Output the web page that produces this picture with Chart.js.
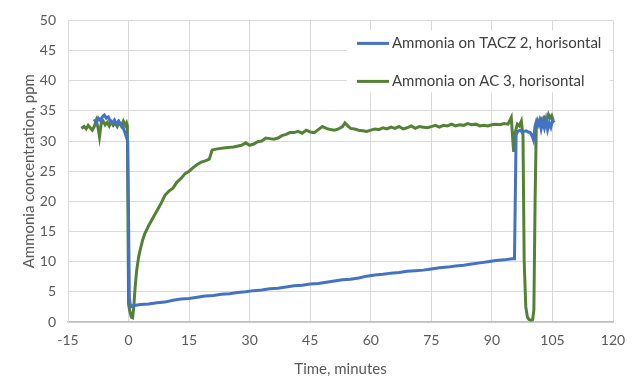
<!DOCTYPE html>
<html>
  <head>
    <style>
      body { margin: 0; background: #ffffff; }
      #holder { width: 640px; height: 392px; }
    </style>
  </head>
  <body>
    <div id="holder">
      <canvas id="chart-area" width="640" height="392"></canvas>
    </div>

    <script src="https://cdn.jsdelivr.net/npm/chart.js@4.4.1/dist/chart.umd.min.js"></script>
    <script>
      // series labels
      var seriesNames = ['Ammonia on TACZ 2, horisontal', 'Ammonia on AC 3, horisontal'];

      // TACZ 2 - time (min) and concentration (ppm)
      var taczTime = [-8.5, -8, -7.5, -7, -6.5, -6, -5.5, -5, -4.5, -4, -3.5, -3, -2.5, -2, -1.5, -1, -0.5, -0.2,
        0.2, 0.5, 1, 3, 5, 7, 9, 11, 13, 15, 17, 19, 21, 23, 25, 27, 29, 31, 33, 35, 37, 39, 41, 43, 45, 47, 49,
        51, 53, 55, 57, 59, 61, 63, 65, 67, 69, 71, 73, 75, 77, 79, 81, 83, 85, 87, 89, 91, 93, 95, 95.6,
        96.0, 96.4, 97, 97.5, 98, 98.5, 99, 99.5, 100, 100.3, 100.7, 101, 101.4, 101.8, 102.2, 102.6, 103,
        103.4, 103.8, 104.2, 104.6, 105, 105.5];
      var taczValues = [33.6, 33.0, 33.8, 33.4, 34.0, 34.3, 33.8, 34.0, 33.2, 33.0, 33.5, 32.8, 33.3, 32.8, 32.5, 31.6, 30.6, 30.0,
        4.0, 2.5, 2.7, 2.9, 3.0, 3.2, 3.3, 3.6, 3.8, 3.9, 4.1, 4.3, 4.4, 4.6, 4.7, 4.9, 5.0, 5.2, 5.3, 5.5, 5.6, 5.8, 6.0, 6.1, 6.3, 6.4, 6.6,
        6.8, 7.0, 7.1, 7.3, 7.6, 7.8, 7.9, 8.1, 8.2, 8.4, 8.5, 8.6, 8.8, 9.0, 9.1, 9.3, 9.4, 9.6, 9.8, 10.0, 10.2, 10.3, 10.5, 10.5,
        31.0, 31.6, 31.8, 31.5, 31.6, 31.7, 31.5, 31.4, 30.8, 30.2, 32.5, 33.2, 32.6, 33.4, 32.0, 33.2, 32.2,
        33.5, 31.9, 33.0, 32.3, 33.4, 33.1];

      // AC 3 - time (min) and concentration (ppm)
      var acTime = [-11.7, -11, -10.5, -10, -9.5, -9, -8.5, -8, -7.5, -7.2, -6.8, -6.3, -5.8, -5.3, -4.8, -4.3, -3.8, -3.3,
        -2.8, -2.3, -1.8, -1.3, -0.8, -0.5, -0.3, 0, 0.3, 0.7, 1.0, 1.3, 1.6, 2.0, 2.5, 3, 3.5, 4, 5, 6, 7, 8, 9, 10,
        11, 12, 13, 14, 15, 16, 17, 18, 19, 20, 20.7, 22, 24, 26, 28, 29, 30, 31, 32, 33, 34, 35, 36, 37, 38, 39, 40,
        41, 42, 43, 44, 45, 46, 47, 48, 49, 50, 51, 52, 53, 53.6, 54.5, 55, 56, 57, 58, 59, 60, 61, 62, 63, 64, 65,
        66, 67, 68, 69, 70, 71, 72, 73, 74, 75, 76, 77, 78, 79, 80, 81, 82, 83, 84, 85, 86, 87, 88, 89, 90, 91, 92,
        93, 94, 94.8, 95.2, 95.4, 95.8, 96.3, 96.8, 97.3, 97.7, 98.0, 98.4, 98.8, 99.2, 99.7, 100.1, 100.4, 100.7,
        101.0, 101.3, 101.7, 102.2, 102.6, 103.0, 103.5, 104.0, 104.4, 104.8, 105.2];
      var acValues = [32.1, 32.4, 32.0, 32.6, 32.2, 31.8, 32.4, 33.4, 32.0, 30.7, 32.8, 33.3, 32.7, 33.1, 32.5, 33.2, 32.6, 33.0,
        32.4, 33.1, 32.5, 33.3, 32.6, 33.0, 32.5, 3.0, 1.8, 0.8, 0.7, 2.5, 5.5, 8.5, 10.8, 12.3, 13.6, 14.6, 16.0, 17.2, 18.4, 19.6, 21.0, 21.7,
        22.2, 23.2, 23.8, 24.6, 25.0, 25.6, 26.1, 26.5, 26.7, 27.0, 28.5, 28.7, 28.9, 29.0, 29.3, 29.7, 29.3, 29.5, 29.9, 30.0, 30.5, 30.4, 30.3, 30.5, 30.9, 31.1, 31.4,
        31.4, 31.6, 31.3, 31.8, 31.5, 31.4, 31.9, 32.4, 32.1, 31.9, 31.8, 32.0, 32.4, 33.0, 32.4, 32.1, 32.0, 31.8, 31.7, 31.6, 31.8, 32.0, 31.9, 32.2, 32.0, 32.3,
        32.1, 32.4, 32.0, 32.2, 32.5, 32.1, 32.4, 32.3, 32.2, 32.4, 32.6, 32.3, 32.6, 32.5, 32.8, 32.5, 32.7, 32.6, 32.9, 32.7, 32.8, 32.5, 32.6, 32.5, 32.7, 32.8, 32.7,
        32.9, 32.8, 33.9, 30.0, 28.2, 31.5, 32.8, 32.5, 33.3, 31.0, 10.0, 2.5, 0.8, 0.4, 0.3, 0.4, 2.0, 20.0,
        32.5, 33.4, 32.8, 33.6, 33.1, 33.9, 33.4, 34.4, 33.8, 34.2, 33.4];

      var seriesColors = ['#4472C4', '#548235'];

      function toPoints(xs, ys) {
        var pts = [];
        for (var i = 0; i < xs.length; i++) {
          pts.push({x: xs[i], y: ys[i]});
        }
        return pts;
      }

      // white legend box inside the plot, like the Excel one
      var boxLegend = {
        id: 'boxLegend',
        beforeDatasetsDraw: function(chart) {
          var ctx = chart.ctx;
          var area = chart.chartArea;
          var bx = area.right - 266;
          var by = area.top + 10;
          ctx.save();
          ctx.fillStyle = '#ffffff';
          ctx.fillRect(bx, by, 263, 62);
          ctx.font = '15px Lato';
          ctx.textBaseline = 'middle';
          ctx.lineWidth = 3;
          for (var i = 0; i < chart.data.datasets.length; i++) {
            var ds = chart.data.datasets[i];
            var ly = by + 13 + i * 38;
            ctx.strokeStyle = ds.borderColor;
            ctx.beginPath();
            ctx.moveTo(bx + 10, ly);
            ctx.lineTo(bx + 42, ly);
            ctx.stroke();
            ctx.fillStyle = '#404040';
            ctx.fillText(ds.label, bx + 45, ly);
          }
          ctx.restore();
        }
      };

      var ctx = document.getElementById('chart-area').getContext('2d');
      var chart = new Chart(ctx, {
        type: 'line',
        data: {
          datasets: [{
            label: seriesNames[0],
            data: toPoints(taczTime, taczValues),
            borderColor: seriesColors[0],
            borderWidth: 3,
            pointRadius: 0,
            tension: 0
          }, {
            label: seriesNames[1],
            data: toPoints(acTime, acValues),
            borderColor: seriesColors[1],
            borderWidth: 3,
            pointRadius: 0,
            tension: 0
          }]
        },
        options: {
          responsive: false,
          animation: false,
          layout: { padding: { left: 0, right: 27, top: 20, bottom: 0 } },
          plugins: {
            legend: { display: false },
            tooltip: { enabled: false }
          },
          scales: {
            x: {
              type: 'linear',
              min: -15,
              max: 120,
              ticks: { stepSize: 15, padding: 10, color: '#595959', font: { family: 'Lato', size: 14 } },
              grid: { color: '#d9d9d9', drawTicks: false },
              border: { color: '#bfbfbf', width: 1.5 },
              title: { display: true, text: 'Time, minutes', color: '#595959', font: { family: 'Lato', size: 15 }, padding: { top: 4, bottom: 14 } },
              afterFit: function(scale) { scale.height = 70; }
            },
            y: {
              min: 0,
              max: 50,
              ticks: { stepSize: 5, padding: 12, color: '#595959', font: { family: 'Lato', size: 14 } },
              grid: { color: '#d9d9d9', drawTicks: false },
              border: { color: '#d9d9d9' },
              title: { display: true, text: 'Ammonia concentration, ppm', color: '#595959', font: { family: 'Lato', size: 15 }, padding: { top: 20, bottom: 0 } },
              afterFit: function(scale) { scale.width = 68; }
            }
          }
        },
        plugins: [boxLegend]
      });
    </script>
  </body>
</html>
